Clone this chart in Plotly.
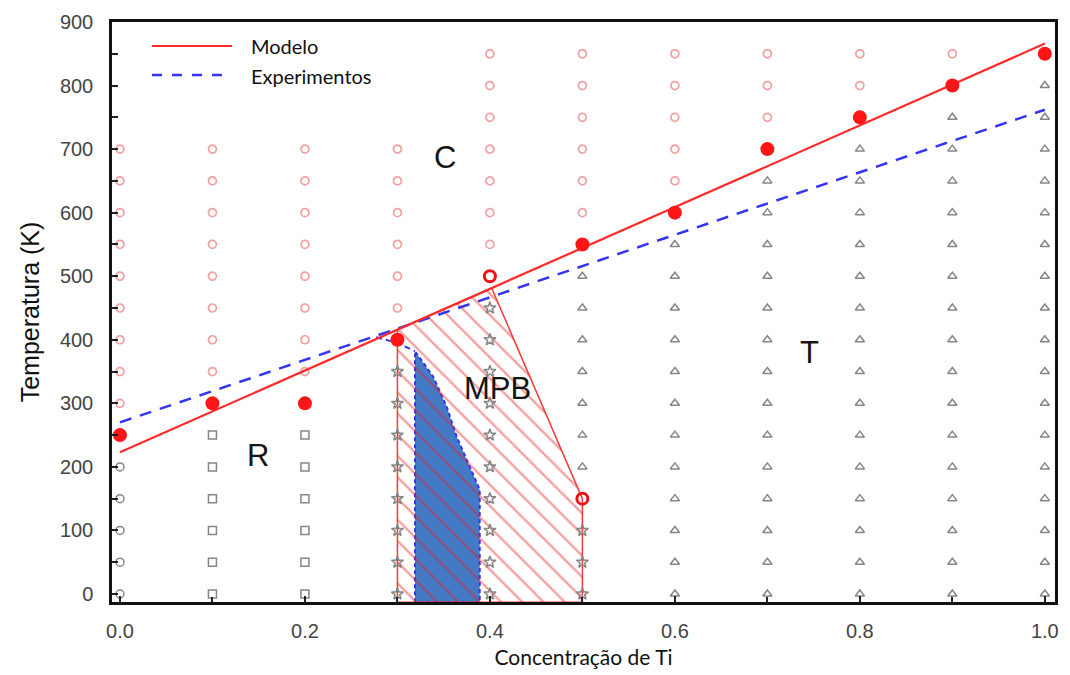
import plotly.graph_objects as go

# ---------------- data ----------------
# model (red solid) and experimental (blue dashed) transition lines
model_x = [0.0, 1.0]
model_T = [223, 866]
exp_x = [0.0, 1.0]
exp_T = [270, 762]

# filled red points (computed transition)
tc_x = [0.0, 0.1, 0.2, 0.3, 0.5, 0.6, 0.7, 0.8, 0.9, 1.0]
tc_T = [250, 300, 300, 400, 550, 600, 700, 750, 800, 850]

# bold open red circles
bold_x = [0.4, 0.5]
bold_T = [500, 150]

# phase grid markers: column -> temperatures
cubic = {
    0.0: [300, 350, 400, 450, 500, 550, 600, 650, 700],
    0.1: [350, 400, 450, 500, 550, 600, 650, 700],
    0.2: [350, 400, 450, 500, 550, 600, 650, 700],
    0.3: [450, 500, 550, 600, 650, 700],
    0.4: [550, 600, 650, 700, 750, 800, 850],
    0.5: [600, 650, 700, 750, 800, 850],
    0.6: [650, 700, 750, 800, 850],
    0.7: [750, 800, 850],
    0.8: [800, 850],
    0.9: [850],
}
rhombo_circ = {0.0: [0, 50, 100, 150, 200]}
rhombo_sq = {
    0.1: [0, 50, 100, 150, 200, 250],
    0.2: [0, 50, 100, 150, 200, 250],
}
mono_star = {
    0.3: [0, 50, 100, 150, 200, 250, 300, 350],
    0.4: [0, 50, 100, 150, 200, 250, 300, 350, 400, 450],
    0.5: [0, 50, 100],
}
tetra = {
    0.5: [200, 250, 300, 350, 400, 450, 500],
    0.6: [0, 50, 100, 150, 200, 250, 300, 350, 400, 450, 500, 550],
    0.7: [0, 50, 100, 150, 200, 250, 300, 350, 400, 450, 500, 550, 600, 650],
    0.8: [0, 50, 100, 150, 200, 250, 300, 350, 400, 450, 500, 550, 600, 650, 700],
    0.9: [0, 50, 100, 150, 200, 250, 300, 350, 400, 450, 500, 550, 600, 650, 700, 750],
    1.0: [0, 50, 100, 150, 200, 250, 300, 350, 400, 450, 500, 550, 600, 650, 700, 750, 800],
}

# MPB hatched region (model), down to the bottom of the axis
mpb_x = [0.3, 0.3, 0.402, 0.5, 0.5, 0.3]
mpb_T = [-13, 416, 481, 150, -13, -13]

# experimental MPB (blue filled)
expmpb_x = [0.319, 0.319, 0.3387, 0.3532, 0.364, 0.378, 0.389, 0.389, 0.319]
expmpb_T = [-13, 382, 342, 295, 248, 201, 164, -13, -13]
# dashed connection from experimental line to blue region
expcon_x = [0.277, 0.300, 0.319]
expcon_T = [404, 395, 382]

labels = [("C", 0.351, 687), ("R", 0.149, 218), ("T", 0.746, 380), ("MPB", 0.408, 324)]

x_ticks = [0.0, 0.2, 0.4, 0.6, 0.8, 1.0]
y_ticks = [0, 100, 200, 300, 400, 500, 600, 700, 800, 900]

RED = "#ff2a2a"
BLUE = "#3535f0"
GRAY = "#868686"


def flatten(d):
    xs, ys = [], []
    for k, v in d.items():
        for t in v:
            xs.append(k)
            ys.append(t)
    return xs, ys


fig = go.Figure()

# blue experimental MPB
fig.add_trace(go.Scatter(x=expmpb_x, y=expmpb_T, mode="lines", fill="toself",
                         fillcolor="#4479c6",
                         line=dict(color=BLUE, width=2, dash="4px,3px"),
                         hoverinfo="skip", showlegend=False))
fig.add_trace(go.Scatter(x=expcon_x, y=expcon_T, mode="lines",
                         line=dict(color=BLUE, width=2, dash="6px,4px"),
                         hoverinfo="skip", showlegend=False))

# hatched MPB
fig.add_trace(go.Scatter(x=mpb_x, y=mpb_T, mode="lines", fill="toself",
                         fillcolor="rgba(0,0,0,0)",
                         fillpattern=dict(shape="\\", fgcolor="rgba(230,25,25,0.85)",
                                          bgcolor="rgba(0,0,0,0)", size=15, solidity=0.15),
                         line=dict(color="rgba(240,50,50,0.95)", width=1.5),
                         hoverinfo="skip", showlegend=False))

# grid markers
cx, cy = flatten(cubic)
fig.add_trace(go.Scatter(x=cx, y=cy, mode="markers",
                         marker=dict(symbol="circle-open", size=8, color="#f2a0a0",
                                     line=dict(width=1.7)), showlegend=False))
gx, gy = flatten(rhombo_circ)
fig.add_trace(go.Scatter(x=gx, y=gy, mode="markers",
                         marker=dict(symbol="circle-open", size=8, color=GRAY,
                                     line=dict(width=1.5)), showlegend=False))
gx, gy = flatten(rhombo_sq)
fig.add_trace(go.Scatter(x=gx, y=gy, mode="markers",
                         marker=dict(symbol="square-open", size=8, color=GRAY,
                                     line=dict(width=1.5)), showlegend=False))
gx, gy = flatten(mono_star)
fig.add_trace(go.Scatter(x=gx, y=gy, mode="markers",
                         marker=dict(symbol="star-open", size=9, color=GRAY,
                                     line=dict(width=1.5)), showlegend=False))
gx, gy = flatten(tetra)
fig.add_trace(go.Scatter(x=gx, y=gy, mode="markers",
                         marker=dict(symbol="triangle-up-open", size=8, color=GRAY,
                                     line=dict(width=1.5)), showlegend=False))

# lines
fig.add_trace(go.Scatter(x=exp_x, y=exp_T, mode="lines", name="Experimentos",
                         line=dict(color=BLUE, width=2.5, dash="12px,9px"), showlegend=False))
fig.add_trace(go.Scatter(x=model_x, y=model_T, mode="lines", name="Modelo",
                         line=dict(color=RED, width=2.2), showlegend=False))

# red points
fig.add_trace(go.Scatter(x=tc_x, y=tc_T, mode="markers",
                         marker=dict(symbol="circle", size=14, color="#ff1515"), showlegend=False))
fig.add_trace(go.Scatter(x=bold_x, y=bold_T, mode="markers",
                         marker=dict(symbol="circle-open", size=11, color="#ee1111",
                                     line=dict(width=3)), showlegend=False))

for txt, lx, ly in labels:
    fig.add_annotation(x=lx, y=ly, text=txt, showarrow=False,
                       font=dict(family="Liberation Sans, Arial", size=31, color="#151515"))

# manual legend
L, W, T, H = 112, 943, 22, 580


def px(xp):
    return (xp - L) / W


def py(yp):
    return 1 - (yp - T) / H


fig.add_shape(type="line", xref="paper", yref="paper", x0=px(152), x1=px(232),
              y0=py(46), y1=py(46), line=dict(color=RED, width=2.2))
fig.add_shape(type="line", xref="paper", yref="paper", x0=px(152), x1=px(232),
              y0=py(75), y1=py(75), line=dict(color=BLUE, width=2.5, dash="10px,10px"))
fig.add_annotation(xref="paper", yref="paper", x=px(249), y=py(46), text="Modelo",
                   showarrow=False, xanchor="left", yanchor="middle",
                   font=dict(family="Lato, Open Sans", size=20, color="#111"))
fig.add_annotation(xref="paper", yref="paper", x=px(249), y=py(76), text="Experimentos",
                   showarrow=False, xanchor="left", yanchor="middle",
                   font=dict(family="Lato, Open Sans", size=20, color="#111"))

fig.update_layout(
    width=1070, height=675,
    margin=dict(l=112, r=15, t=22, b=73),
    paper_bgcolor="white", plot_bgcolor="white",
    showlegend=False,
    xaxis=dict(range=[-0.0086, 1.011], tickvals=x_ticks, tickformat=".1f",
               automargin=False,
               showgrid=False, zeroline=False, showline=True, linecolor="#111",
               linewidth=2.5, mirror=True, ticks="inside", ticklen=6, tickwidth=1.5,
               tickcolor="#222",
               minor=dict(dtick=0.1, tick0=0, ticks="inside", ticklen=5, tickcolor="#222"),
               tickfont=dict(family="Liberation Sans, Arial", size=20, color="#444"),
               ticklabelstandoff=9,
               title=dict(text="Concentração de Ti", standoff=10,
                          font=dict(family="Lato, Open Sans", size=21, color="#111"))),
    yaxis=dict(range=[-12.6, 900], tickvals=y_ticks,
               automargin=False,
               showgrid=False, zeroline=False, showline=True, linecolor="#111",
               linewidth=2.5, mirror=True, ticks="inside", ticklen=6, tickwidth=1.5,
               tickcolor="#222",
               minor=dict(dtick=50, tick0=0, ticks="inside", ticklen=6, tickcolor="#222"),
               tickfont=dict(family="Liberation Sans, Arial", size=20, color="#444"),
               ticklabelstandoff=12,
               title=dict(text="Temperatura (K)", standoff=14,
                          font=dict(family="Liberation Sans, Arial", size=25, color="#111"))),
)

fig.write_html("out.html")
